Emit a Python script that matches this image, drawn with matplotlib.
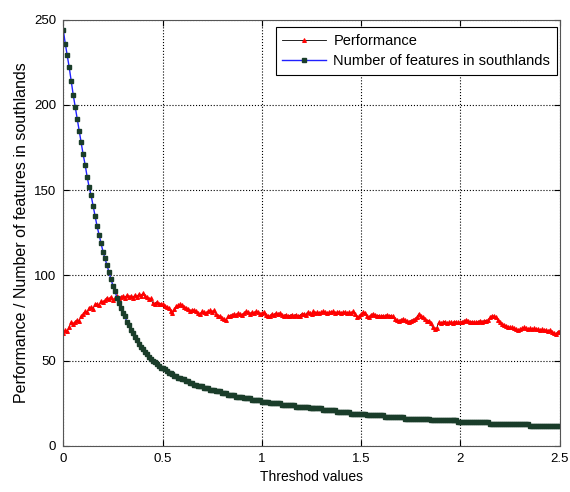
import numpy as np
import matplotlib.pyplot as plt

plt.rcParams['font.family'] = ['Liberation Sans', 'DejaVu Sans']

# threshold values, step 0.01 from 0 to 2.5
thresholds = np.arange(251) / 100.0

performance = [
    66.5, 68, 67.5, 70, 72.5, 71.5, 73, 74, 73.5, 76, 77.5,
    79, 78.5, 81, 81.5, 80.5, 83, 83.5, 82.5, 85, 84.5,
    85.5, 87, 86, 87.5, 85.5, 86.5, 88, 86.5, 87.5, 88,
    87, 88.5, 87.5, 88, 87, 88.5, 87.5, 89, 88, 89.5,
    88, 87.5, 86, 86.5, 84, 83.5, 84.5, 83, 83.5, 83,
    82, 81.5, 81, 79, 78, 80.5, 82, 82.5, 83, 82.5,
    81.5, 81, 80.5, 79, 80, 79.5, 79, 78, 77.5, 79,
    78.5, 78, 79, 79.5, 78.5, 79.5, 77.5, 76.5, 76, 75,
    74.5, 74, 76, 76.5, 77, 77.5, 77, 78, 77.5, 77,
    78, 79, 78.5, 77.5, 78.5, 78, 79, 78.5, 77.5, 78,
    78.5, 77, 76.5, 76, 77.5, 77, 78, 77.5, 78, 77,
    76.5, 77, 76, 76.5, 77, 76.5, 77, 76, 76.5, 77.5,
    77.5, 77, 78.5, 78, 77.5, 79, 78, 78.5, 78, 78.5,
    79, 78.5, 78, 78.5, 78.5, 79, 78, 78.5, 78.5, 78,
    78.5, 78.5, 78, 78.5, 78, 79, 77.5, 75.5, 76, 77.5,
    78.5, 78, 76, 75.5, 77, 77.5, 77, 76.5, 76.5, 76,
    76.5, 76, 77, 76.5, 76.5, 76, 74.5, 74, 73.5, 74,
    74.5, 74, 73.5, 73, 73.5, 74, 74.5, 75.5, 77.5, 76.5,
    75.5, 74.5, 73.5, 73.5, 72, 69.5, 68.5, 69, 72.5, 72,
    72.5, 73, 72, 72.5, 72.5, 72, 73, 72.5, 72.5, 72.5,
    73, 73.5, 74, 73.5, 72.5, 73, 72.5, 72.5, 73, 73.5,
    73, 73.5, 73.5, 74, 75.5, 76.5, 76, 75.5, 74, 72.5,
    71.5, 71, 70.5, 70, 69.5, 69.5, 69, 68.5, 68, 68.5,
    69, 69.5, 69, 68.5, 69, 68.5, 69, 68.5, 68.5, 68,
    68.5, 68, 68, 67.5, 68, 67, 66, 65.5, 67, 67.5,
]

n_features = [
    244, 236, 229, 222, 214, 206, 199, 192, 185, 178,
    171, 165, 158, 152, 147, 141, 135, 129, 124, 119,
    114, 110, 106, 102, 98, 94, 91, 87, 84, 81,
    78, 76, 73, 71, 68, 66, 64, 62, 60, 58,
    57, 55, 54, 52, 51, 50, 49, 48, 47, 46,
    46, 45, 44, 43, 43, 42, 41, 41, 40, 40,
    39, 39, 38, 38, 37, 37, 36, 36, 35, 35,
    35, 34, 34, 34, 33, 33, 33, 32, 32, 32,
    31, 31, 31, 30, 30, 30, 30, 29, 29, 29,
    29, 28, 28, 28, 28, 27, 27, 27, 27, 27,
    26, 26, 26, 26, 25, 25, 25, 25, 25, 25,
    24, 24, 24, 24, 24, 24, 24, 23, 23, 23,
    23, 23, 23, 23, 22, 22, 22, 22, 22, 22,
    22, 21, 21, 21, 21, 21, 21, 21, 20, 20,
    20, 20, 20, 20, 20, 19, 19, 19, 19, 19,
    19, 19, 19, 18, 18, 18, 18, 18, 18, 18,
    18, 18, 17, 17, 17, 17, 17, 17, 17, 17,
    17, 17, 16, 16, 16, 16, 16, 16, 16, 16,
    16, 16, 16, 16, 16, 15, 15, 15, 15, 15,
    15, 15, 15, 15, 15, 15, 15, 15, 15, 14,
    14, 14, 14, 14, 14, 14, 14, 14, 14, 14,
    14, 14, 14, 14, 14, 13, 13, 13, 13, 13,
    13, 13, 13, 13, 13, 13, 13, 13, 13, 13,
    13, 13, 13, 13, 13, 12, 12, 12, 12, 12,
    12, 12, 12, 12, 12, 12, 12, 12, 12, 12,
    12,
]

fig = plt.figure(figsize=(5.7, 4.92), dpi=100)
ax = fig.add_axes([0.111, 0.0935, 0.871, 0.8665])

ax.plot(thresholds, performance, color='black', lw=0.6, marker='^',
        ms=2.8, mfc='red', mec='red', mew=0.7, label='Performance')
ax.plot(thresholds, n_features, color='#2020ff', lw=1.0, marker='s',
        ms=2.6, mfc='#1a3d2a', mec='#1a3d2a',
        label='Number of features in southlands')

ax.set_xlim(0, 2.5)
ax.set_ylim(0, 250)
ax.set_xticks([0, 0.5, 1, 1.5, 2, 2.5])
ax.set_xticklabels(['0', '0.5', '1', '1.5', '2', '2.5'])
ax.set_yticks([0, 50, 100, 150, 200, 250])
ax.grid(True, linestyle=':', color='black', lw=0.8)
ax.tick_params(direction='in', top=True, right=True, labelsize=9.5,
               length=4, pad=5)
for s in ax.spines.values():
    s.set_color('#555555')

ax.set_xlabel('Threshod values', fontsize=10, labelpad=4)
ax.set_ylabel('Performance / Number of features in southlands',
              fontsize=11.5, labelpad=4)

leg = ax.legend(loc='upper right', bbox_to_anchor=(0.994, 0.982),
                borderaxespad=0, fontsize=10.5, fancybox=False,
                framealpha=1, edgecolor='black', handlelength=3.0,
                handletextpad=0.5, labelspacing=0.45, borderpad=0.45)
leg.get_frame().set_linewidth(0.8)
leg.legend_handles[0].set_color('black')

fig.savefig('out.png', dpi=100)
